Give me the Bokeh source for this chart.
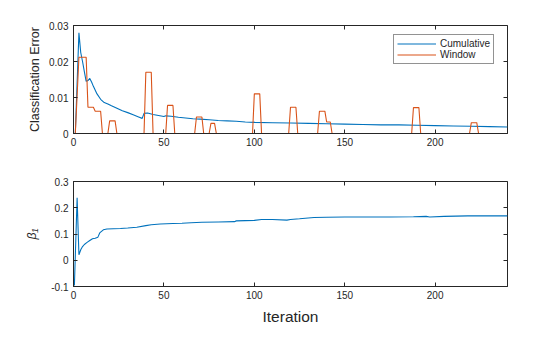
from bokeh.plotting import figure
from bokeh.layouts import column
from bokeh.models import (Range1d, FixedTicker, LinearAxis, CustomJSTickFormatter, Legend)
from bokeh.embed import file_html
from bokeh.resources import INLINE

# ---------------- data ----------------
cum_x = [1, 3, 4, 5, 6, 7, 8, 9, 10, 11, 13, 15, 17, 19, 21, 24, 27, 30, 33, 36, 38,
         39, 41, 44, 47, 50, 51, 54, 58, 62, 66, 70, 75, 80, 85, 90, 95, 100, 110, 120,
         130, 140, 150, 160, 170, 180, 190, 200, 210, 220, 230, 240]
cum_y = [0.0, 0.028, 0.0225, 0.0200, 0.0172, 0.0145, 0.0147, 0.0153, 0.0143, 0.0131,
         0.0110, 0.0095, 0.0086, 0.0082, 0.0077, 0.0070, 0.0063, 0.0058, 0.0052, 0.0046,
         0.0042, 0.0056, 0.0057, 0.0053, 0.0050, 0.0047, 0.0049, 0.0048, 0.0045, 0.0043,
         0.0041, 0.0040, 0.0038, 0.0036, 0.0035, 0.0034, 0.0032, 0.0031, 0.0030, 0.0029,
         0.0028, 0.0027, 0.0026, 0.0025, 0.0024, 0.0024, 0.0023, 0.0022, 0.0021, 0.0020,
         0.0019, 0.0018]

win_x = [1, 3, 7, 8, 11, 12, 15, 16, 19, 20, 23, 24, 39, 40, 43, 44, 51, 52, 55, 56,
         67, 68, 71, 72, 75, 76, 78, 79, 99, 100, 103, 104, 119, 120, 123, 124,
         135, 136, 139, 140, 142, 143, 187, 188, 191, 192, 219, 220, 223, 224, 240]
win_y = [0, 0.0212, 0.0212, 0.0073, 0.0073, 0.0062, 0.0062, 0, 0, 0.0035, 0.0035, 0,
         0, 0.017, 0.017, 0, 0, 0.0078, 0.0078, 0, 0, 0.0046, 0.0046, 0, 0, 0.0028,
         0.0028, 0, 0, 0.011, 0.011, 0, 0, 0.0073, 0.0073, 0, 0, 0.0062, 0.0062,
         0.0032, 0.0032, 0, 0, 0.0072, 0.0072, 0, 0, 0.003, 0.003, 0, 0]

beta_x = [0.5, 2, 3, 4, 5, 6, 7.5, 9, 10.5, 12, 13.5, 14.5, 16.5, 18.5, 22, 26, 30, 35,
          40, 43, 48, 55, 60, 65, 71, 80, 89, 90, 100, 104, 110, 118, 120, 125, 133,
          140, 150, 160, 175, 188, 195, 197, 205, 218, 230, 240]
beta_y = [-0.096, 0.238, 0.021, 0.040, 0.052, 0.060, 0.068, 0.075, 0.082, 0.084,
          0.088, 0.104, 0.116, 0.119, 0.120, 0.121, 0.123, 0.126, 0.132, 0.135, 0.138,
          0.140, 0.141, 0.143, 0.145, 0.146, 0.147, 0.150, 0.152, 0.155, 0.155, 0.153,
          0.155, 0.158, 0.163, 0.164, 0.165, 0.165, 0.165, 0.166, 0.167, 0.165, 0.167,
          0.169, 0.169, 0.169]

x_ticks = [0, 50, 100, 150, 200]
err_ticks = [0, 0.01, 0.02, 0.03]
beta_ticks = [-0.1, 0, 0.1, 0.2, 0.3]

BLUE = "#0072BD"
ORANGE = "#D95319"
DARK = "#262626"
FONT = "Liberation Sans"


def style(p, yticks, fmt_code, xlabel=None, ylabel=None, ylabel_size="12.5px",
          ylabel_standoff=4, ylabel_style="normal"):
    p.xgrid.visible = False
    p.ygrid.visible = False
    p.outline_line_color = DARK
    p.outline_line_width = 1
    p.background_fill_color = "white"
    p.border_fill_color = "white"
    xax = p.xaxis[0]
    yax = p.yaxis[0]
    xax.ticker = FixedTicker(ticks=x_ticks)
    yax.ticker = FixedTicker(ticks=yticks)
    yax.formatter = CustomJSTickFormatter(code=fmt_code)
    for ax in (xax, yax):
        ax.major_tick_in = 4
        ax.major_tick_out = 0
        ax.minor_tick_line_color = None
        ax.axis_line_color = DARK
        ax.major_tick_line_color = DARK
        ax.major_label_text_font = FONT
        ax.major_label_text_font_size = "10px"
        ax.major_label_text_color = DARK
        ax.axis_label_text_font = FONT
        ax.axis_label_text_font_style = "normal"
        ax.axis_label_text_color = DARK
    xax.major_label_standoff = 4
    yax.major_label_standoff = 5
    if ylabel:
        yax.axis_label = ylabel
        yax.axis_label_text_font_size = ylabel_size
        yax.axis_label_standoff = ylabel_standoff
        yax.axis_label_text_font_style = ylabel_style
    if xlabel:
        xax.axis_label = xlabel
        xax.axis_label_text_font_size = "15.5px"
        xax.axis_label_standoff = 6
    # mirrored inward ticks on top and right (no labels)
    blank = CustomJSTickFormatter(code="return '';")
    right = LinearAxis(ticker=FixedTicker(ticks=yticks), formatter=blank,
                       major_tick_in=4, major_tick_out=0, minor_tick_line_color=None,
                       axis_line_color=None, major_tick_line_color=DARK,
                       major_label_standoff=0)
    top = LinearAxis(ticker=FixedTicker(ticks=x_ticks), formatter=blank,
                     major_tick_in=4, major_tick_out=0, minor_tick_line_color=None,
                     axis_line_color=None, major_tick_line_color=DARK,
                     major_label_standoff=0)
    p.add_layout(right, "right")
    p.add_layout(top, "above")


# ---------------- top panel ----------------
p1 = figure(width=560, height=160, output_backend="svg", toolbar_location=None,
            x_range=Range1d(0, 240), y_range=Range1d(0, 0.03),
            min_border_left=73, min_border_right=53, min_border_top=25, min_border_bottom=27)
l1 = p1.line(cum_x, cum_y, line_color=BLUE, line_width=1.1)
l2 = p1.line(win_x, win_y, line_color=ORANGE, line_width=1.1)
style(p1, err_ticks, "return Math.abs(tick) < 1e-12 ? '0' : tick.toFixed(2);",
      ylabel="Classification Error")

legend = Legend(items=[("Cumulative", [l1]), ("Window", [l2])],
                location=(320, 69), orientation="vertical",
                border_line_color=DARK, border_line_width=1,
                background_fill_color="white", background_fill_alpha=1.0,
                padding=3, spacing=0, margin=0,
                glyph_width=39, glyph_height=11, label_height=11, label_standoff=4,
                label_text_font=FONT, label_text_font_size="10px",
                label_text_color=DARK)
p1.add_layout(legend)

# ---------------- bottom panel ----------------
p2 = figure(width=560, height=177, output_backend="svg", toolbar_location=None,
            x_range=Range1d(0, 240), y_range=Range1d(-0.1, 0.3),
            min_border_left=73, min_border_right=53, min_border_top=21, min_border_bottom=51)
p2.line(beta_x, beta_y, line_color=BLUE, line_width=1.1)
style(p2, beta_ticks, "return Math.abs(tick) < 1e-12 ? '0' : tick.toFixed(1);",
      xlabel="Iteration", ylabel="β₁", ylabel_size="12.5px", ylabel_standoff=9,
      ylabel_style="italic")

layout = column(p1, p2, spacing=0)
open("out.html", "w").write(file_html(layout, INLINE))
